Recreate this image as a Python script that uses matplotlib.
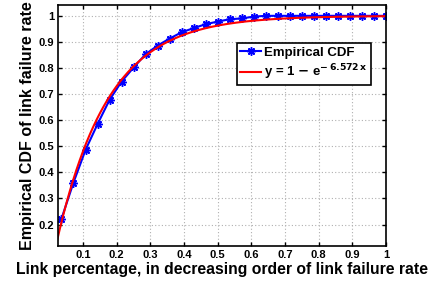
import numpy as np
import matplotlib
matplotlib.use('agg')
import matplotlib.pyplot as plt

plt.rcParams['font.family'] = ['Liberation Sans', 'DejaVu Sans']
plt.rcParams['font.weight'] = 'bold'

# empirical CDF points (x = k/28)
link_idx = list(range(1, 29))
cdf_values = [0.222, 0.361, 0.486, 0.585, 0.678, 0.748, 0.802, 0.853, 0.886,
              0.913, 0.937, 0.953, 0.968, 0.978, 0.987, 0.990, 0.997, 1.0,
              1.0, 1.0, 1.0, 1.0, 1.0, 1.0, 1.0, 1.0, 1.0, 1.0]
n_links = 28
fit_rate = 6.572

x_emp = np.array(link_idx) / n_links
x_fit = np.linspace(0, 1, 300)
y_fit = 1 - np.exp(-fit_rate * x_fit)

fig = plt.figure(figsize=(4.3, 2.86), dpi=100)
ax = fig.add_axes([0.135, 0.14, 0.763, 0.843])

ax.plot(x_emp, cdf_values, color='blue', lw=1.5, marker=(8, 2, 0), ms=6,
        mew=1.1, label='Empirical CDF')
ax.plot(x_fit, y_fit, color='red', lw=1.5,
        label=r'y = 1 $-$ e$^{\mathbf{-\,6.572\,x}}$')

ax.set_xlim(0.0256, 1)
ax.set_ylim(0.118, 1.042)
ax.set_xticks(np.arange(0.1, 1.01, 0.1))
ax.set_xticklabels(['0.1', '0.2', '0.3', '0.4', '0.5', '0.6', '0.7', '0.8', '0.9', '1'])
ax.set_yticks(np.arange(0.2, 1.01, 0.1))
ax.set_yticklabels(['0.2', '0.3', '0.4', '0.5', '0.6', '0.7', '0.8', '0.9', '1'])
ax.tick_params(direction='in', labelsize=8, length=3, width=1,
               top=True, right=True, pad=3)
for s in ax.spines.values():
    s.set_linewidth(1.2)
ax.grid(True, ls=(0, (1, 2)), color='#b0b0b0', lw=0.8)

ax.set_xlabel('Link percentage, in decreasing order of link failure rate',
              fontsize=11.3, fontweight='bold', labelpad=1)
ax.set_ylabel('Empirical CDF of link failure rate',
              fontsize=11.5, fontweight='bold', labelpad=2)

leg = ax.legend(loc='upper left', bbox_to_anchor=(0.545, 0.84),
                fontsize=9.5, fancybox=False, framealpha=1,
                edgecolor='black', borderpad=0.25, handlelength=1.6,
                handletextpad=0.2, labelspacing=0.25, borderaxespad=0)
leg.get_frame().set_linewidth(1.2)

fig.savefig('out.png', dpi=100)
